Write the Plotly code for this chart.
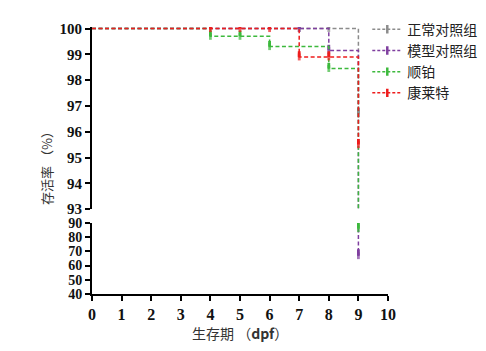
import plotly.graph_objects as go

# ---- data ----
groups = ["正常对照组", "模型对照组", "顺铂", "康莱特"]
days_normal = [0, 7, 8, 9]
surv_normal = [100, 100, 100, 96.7]
days_model = [0, 7, 8, 9]
surv_model = [100, 100, 99.15, 67]
days_cis = [0, 4, 5, 6, 8, 9]
surv_cis = [100, 99.7, 99.7, 99.3, 98.45, 86]
days_kang = [0, 4, 5, 6, 7, 8, 9]
surv_kang = [100, 100, 100, 100, 98.9, 98.9, 95.5]
x_ticks = list(range(0, 11))
y_upper_ticks = [93, 94, 95, 96, 97, 98, 99, 100]
y_lower_ticks = [40, 50, 60, 70, 80, 90]

colors = ["#8c8c8c", "#7f3f9f", "#3cb93c", "#ee1c1c"]
series = [(days_normal, surv_normal), (days_model, surv_model),
          (days_cis, surv_cis), (days_kang, surv_kang)]

fig = go.Figure()
for name, (xs, ys), c in zip(groups, series, colors):
    for ax, tick_up in (("y", 0.22), ("y2", 4.5)):
        up = [0] + [tick_up] * (len(xs) - 1)
        fig.add_trace(go.Scatter(
            x=xs, y=ys, yaxis=ax, name=name, mode="lines+markers",
            line=dict(color=c, width=1.5, dash="4px,2.5px", shape="hv"),
            marker=dict(symbol="line-ns", size=[0] + [5] * (len(xs) - 1),
                        line=dict(color=c, width=2.8)),
            error_y=dict(type="data", symmetric=False, array=up,
                         arrayminus=[0] * len(xs), width=0, thickness=2.8, color=c),
            showlegend=False, hoverinfo="skip",
        ))
    # legend entry
    fig.add_trace(go.Scatter(
        x=[None], y=[None], name=name, mode="lines+markers",
        line=dict(color=c, width=1.5, dash="3px,2px"),
        marker=dict(symbol="line-ns", size=6, line=dict(color=c, width=2.5)),
        showlegend=True,
    ))

common = dict(showgrid=False, zeroline=False, showline=True, linecolor="black",
              linewidth=2, ticks="outside", ticklen=5, tickwidth=2, tickcolor="black")

fig.update_layout(
    width=486, height=351,
    font=dict(family="Liberation Serif"),
    margin=dict(l=92, r=98, t=27, b=57, autoexpand=False),
    paper_bgcolor="white", plot_bgcolor="white",
    xaxis=dict(range=[0, 10], tickvals=x_ticks, ticktext=[f"<b>{v}</b>" for v in x_ticks],
               anchor="y2", tickfont=dict(family="Liberation Serif", size=16, color="#111"),
               **common),
    yaxis=dict(domain=[0.318, 1], range=[93, 100.06], tickvals=y_upper_ticks,
               ticktext=[f"<b>{v}</b>" for v in y_upper_ticks],
               tickfont=dict(family="Liberation Serif", size=15, color="#111"), **common),
    yaxis2=dict(domain=[0, 0.266], range=[40, 90], tickvals=y_lower_ticks,
                ticktext=[f"<b>{v}</b>" for v in y_lower_ticks],
                tickfont=dict(family="Liberation Serif", size=14, color="#111"), **common),
    legend=dict(x=0.93, y=1.05, xanchor="left", yanchor="top",
                font=dict(family="Noto Sans CJK SC", size=14, color="#222"),
                itemwidth=30, bgcolor="rgba(0,0,0,0)"),
    annotations=[
        dict(text="存活率 （%）", x=(47 - 92) / 296, y=(294 - 165) / 267,
             xref="paper", yref="paper", showarrow=False, textangle=-90,
             xanchor="center", yanchor="middle",
             font=dict(family="Noto Sans CJK SC", size=13, color="#333")),
        dict(text="生存期 （<b>dpf</b>）", x=0.5, y=(294 - 333) / 267,
             xref="paper", yref="paper", showarrow=False, yanchor="middle",
             font=dict(family="Noto Sans CJK SC", size=14, color="#333")),
    ],
)

fig.write_html("out.html")
